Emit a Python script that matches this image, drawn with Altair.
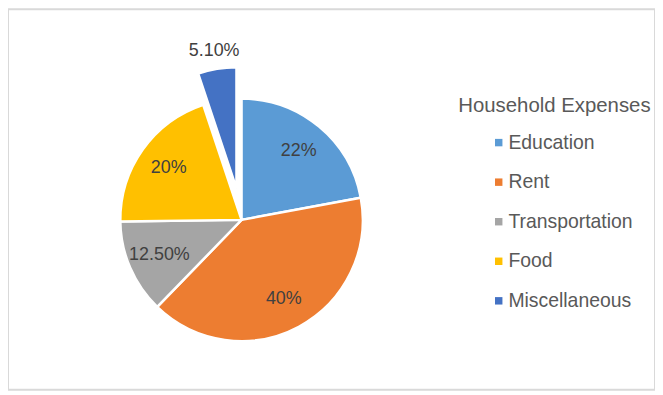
import math
import altair as alt
import pandas as pd

categories = ["Education", "Rent", "Transportation", "Food", "Miscellaneous"]
values = [22, 40, 12.5, 20, 5.1]
labels = ["22%", "40%", "12.50%", "20%", "5.10%"]
colors = ["#5B9BD5", "#ED7D31", "#A5A5A5", "#FFC000", "#4472C4"]
exploded = "Miscellaneous"
legend_title = "Household Expenses"

df = pd.DataFrame({
    "category": categories,
    "value": values,
    "label": labels,
    "order": list(range(len(categories))),
})
total = sum(values)

FONT = "Liberation Sans"
CX, CY, R = 235, 212, 122
EXPLODE = 32
idx = categories.index(exploded)
mid_angle = (sum(values[:idx]) + values[idx] / 2) / total * 2 * math.pi
EX = CX + EXPLODE * math.sin(mid_angle)
EY = CY - EXPLODE * math.cos(mid_angle)

theta_scale = alt.Scale(domain=[0, total], range=[0, 2 * math.pi])
color = alt.Color(
    "category:N",
    scale=alt.Scale(domain=categories, range=colors),
    legend=alt.Legend(
        title=legend_title,
        orient="none",
        legendX=453,
        legendY=87,
        titleFont=FONT,
        titleFontSize=20.5,
        titleFontWeight="normal",
        titleColor="#595959",
        titlePadding=17,
        titleLimit=400,
        labelFont=FONT,
        labelFontSize=19.5,
        labelColor="#595959",
        labelOffset=0,
        labelLimit=400,
        symbolType="square",
        symbolSize=56,
        symbolStrokeWidth=0,
        symbolOffset=31,
        rowPadding=18.8,
    ),
)

base = (
    alt.Chart(df)
    .transform_window(v1="sum(value)", sort=[alt.SortField("order")])
    .transform_calculate(v0="datum.v1 - datum.value", mid="datum.v1 - datum.value / 2")
)

arcs = base.transform_filter(alt.datum.category != exploded).mark_arc(
    outerRadius=R, stroke="white", strokeWidth=2.5
).encode(
    theta=alt.Theta("v0:Q", scale=theta_scale),
    theta2="v1:Q",
    color=color,
    x=alt.value(CX),
    y=alt.value(CY),
)

arc_ex = base.transform_filter(alt.datum.category == exploded).mark_arc(
    outerRadius=R, stroke="white", strokeWidth=2.5
).encode(
    theta=alt.Theta("v0:Q", scale=theta_scale),
    theta2="v1:Q",
    color=color,
    x=alt.value(EX),
    y=alt.value(EY),
)

text = base.transform_filter(alt.datum.category != exploded).mark_text(
    radius=90, font=FONT, fontSize=18, color="#404040"
).encode(
    theta=alt.Theta("mid:Q", scale=theta_scale),
    text="label:N",
    x=alt.value(CX),
    y=alt.value(CY),
)

text_ex = base.transform_filter(alt.datum.category == exploded).mark_text(
    radius=140, font=FONT, fontSize=18, color="#404040"
).encode(
    theta=alt.Theta("mid:Q", scale=theta_scale),
    text="label:N",
    x=alt.value(EX),
    y=alt.value(EY),
)

chart = (
    alt.layer(arcs, arc_ex, text, text_ex)
    .properties(width=651, height=383, padding=0)
    .configure_view(stroke="#D9D9D9", strokeWidth=2)
)

chart.save("out.html", embed_options={"renderer": "svg", "actions": False})
